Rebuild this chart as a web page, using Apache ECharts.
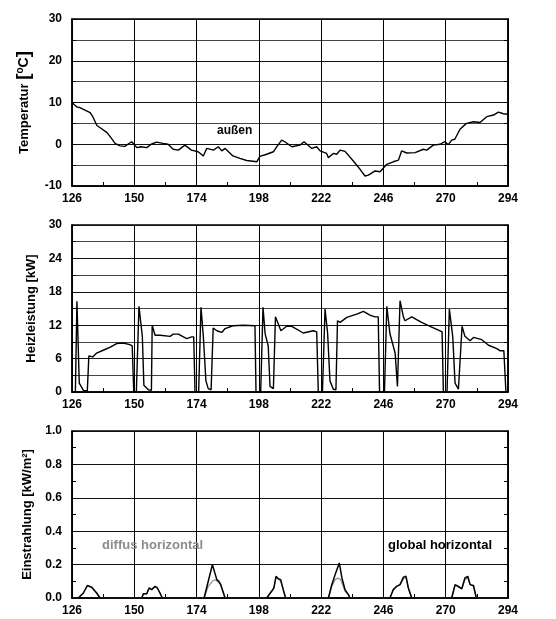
<!DOCTYPE html>
<html>
<head>
<meta charset="utf-8">
<script src="https://cdn.jsdelivr.net/npm/echarts@6/dist/echarts.min.js"></script>
<style>
html,body{margin:0;padding:0;background:#fff;}
#main{width:556px;height:619px;}
</style>
</head>
<body>
<div id="main"></div>
<script>
// x-axis (hours)
const xTicks = [126, 150, 174, 198, 222, 246, 270, 294];
const tempTicks = [-10, 0, 10, 20, 30];
const heatTicks = [0, 6, 12, 18, 24, 30];
const radTicks = [0.0, 0.2, 0.4, 0.6, 0.8, 1.0];

// Temperatur außen [°C]: [hour, value]
const tempAussen = [[126,10.0],[127,9.4],[128,8.9],[129,8.8],[130,8.5],[131,8.2],[133,7.6],[134,6.6],[135.6,4.5],[137,3.9],[139.5,2.8],[141,1.6],[142.6,0.2],[144.5,-0.4],[146.4,-0.5],[147.5,0],[149,0.6],[151,-0.8],[152.5,-0.6],[154.8,-0.8],[156.5,0],[158.6,0.5],[161,0.2],[163,0],[165,-1.2],[167,-1.4],[169.5,-0.2],[172,-1.4],[174.6,-1.8],[176.6,-2.8],[177.9,-1.0],[180.5,-1.4],[182.4,-0.6],[183.7,-1.6],[185,-1.0],[188,-2.8],[190.7,-3.4],[193.3,-3.9],[195,-4.0],[197.2,-4.2],[198.4,-2.9],[201,-2.4],[203.6,-1.8],[205,-0.5],[206.8,1.0],[208,0.6],[210.7,-0.6],[213.9,-0.2],[215.4,0.6],[218.4,-1.0],[220.3,-0.6],[221.6,-1.6],[224.1,-2.2],[224.8,-3.2],[226.7,-2.2],[228,-2.4],[229.3,-1.4],[231.2,-1.7],[234.4,-4.0],[237,-6.0],[238.9,-7.6],[240.2,-7.4],[242.8,-6.4],[244.7,-6.6],[247.3,-4.8],[249.8,-4.2],[251.8,-3.8],[253,-1.6],[255,-2.1],[258.2,-2.0],[261.4,-1.2],[262.7,-1.4],[265.2,-0.2],[267.8,0],[269.7,0.6],[271,-0.1],[272.3,1.0],[273.5,1.2],[275.5,3.6],[278,5.0],[280.7,5.4],[283.2,5.2],[285.8,6.6],[288.4,7.0],[290.3,7.7],[292.2,7.3],[294,7.2]];

// Heizleistung [kW]: [hour, value]
const heizleistung = [[126,0],[127.3,0],[127.9,16.3],[128.8,1.6],[130.4,0.3],[131.9,0.2],[132.5,6.5],[134,6.3],[135.5,7.0],[138,7.5],[140.6,8.0],[143.2,8.7],[145.7,8.8],[148.3,8.5],[149.2,8.3],[149.8,0],[150.8,0],[151.8,15.4],[153.1,10],[153.7,1.2],[155.4,0.4],[156.6,0.3],[156.9,12.0],[158,10.2],[160,10.2],[163.8,10.0],[165,10.4],[167,10.4],[170.2,9.6],[172.1,9.9],[172.9,9.9],[173.4,0],[174.8,0],[175.7,15.2],[176.6,10],[177.6,2],[178.5,0.6],[179.6,0.4],[180.4,11.5],[181.8,11.0],[182.4,11.2],[183.7,10.7],[185,11.4],[188,11.9],[192,12.0],[196.5,11.9],[196.9,0],[198.7,0],[199.6,15.2],[200.4,10.5],[201.6,8.3],[202.3,1.0],[203.6,0.6],[204.4,13.5],[206.5,11.0],[208.7,11.8],[210.7,11.8],[215.1,10.6],[219,11.0],[220.3,10.8],[220.9,0],[222.5,0],[223.5,14.9],[224.5,10.5],[225.4,2.0],[226.7,0.5],[227.7,0.4],[228.3,12.8],[229.3,12.5],[231.9,13.4],[235.7,14.0],[238.3,14.5],[240.8,13.8],[242.8,13.5],[244,13.5],[244.5,0],[246.4,0],[247.3,15.4],[248.5,10.5],[250.5,7.0],[251.4,1.0],[252.4,16.4],[253.7,13.5],[254.3,12.8],[256.9,13.5],[260.7,12.5],[264,11.8],[267.8,11.0],[268.6,10.8],[269.1,0],[270.5,0],[271.4,14.9],[272.7,10],[273.6,1.6],[274.9,0.5],[275.6,0.4],[276.3,11.8],[277.4,10],[279.4,9.2],[280.7,9.8],[283.9,9.4],[286.5,8.4],[289.7,7.8],[291,7.4],[292.4,7.4],[293.2,0],[294,0]];

// Einstrahlung global horizontal [kW/m²]
const globalHorizontal = [[126,0],[128.4,0],[130.4,0.03],[131.9,0.075],[133.6,0.065],[135.5,0.03],[136.8,0],[152.9,0],[153.5,0.025],[154.8,0.025],[155.7,0.06],[156.7,0.05],[158,0.07],[158.9,0.06],[159.9,0.03],[160.8,0],[176.9,0],[178.5,0.1],[180.1,0.2],[180.7,0.19],[181.8,0.11],[182.6,0.1],[183.3,0.08],[183.7,0.09],[185,0],[201,0],[202.9,0.04],[203.8,0.06],[204.6,0.13],[205.5,0.115],[206.4,0.11],[207.4,0.05],[208.3,0],[224.8,0],[226.1,0.08],[227.4,0.14],[229,0.21],[230,0.12],[231.2,0.05],[232.5,0.02],[233.1,0],[248.5,0],[249.8,0.05],[251.1,0.07],[252.4,0.08],[253.7,0.125],[254.7,0.13],[255.6,0.06],[256.9,0],[272.3,0],[273.6,0.08],[274.9,0.07],[276.2,0.055],[277.4,0.12],[278.5,0.13],[279.4,0.08],[280.7,0.075],[281.8,0],[294,0]];

// Einstrahlung diffus horizontal [kW/m²]
const diffusHorizontal = [[126,0],[128.4,0],[130.4,0.03],[131.9,0.072],[133.6,0.062],[135.5,0.03],[136.8,0],[152.9,0],[153.5,0.025],[154.8,0.025],[155.7,0.058],[156.7,0.05],[158,0.068],[158.9,0.058],[159.9,0.03],[160.8,0],[176.9,0],[178.5,0.07],[180.1,0.1],[181,0.11],[182,0.1],[183.3,0.08],[183.7,0.07],[185,0],[201,0],[202.9,0.04],[203.8,0.06],[204.6,0.12],[205.5,0.115],[206.4,0.1],[207.4,0.05],[208.3,0],[224.8,0],[226.1,0.07],[227.4,0.11],[228.5,0.12],[229.5,0.11],[230.5,0.07],[231.2,0.04],[232.5,0.02],[233.1,0],[248.5,0],[249.8,0.05],[251.1,0.07],[252.4,0.08],[253.7,0.115],[254.7,0.12],[255.6,0.06],[256.9,0],[272.3,0],[273.6,0.075],[274.9,0.065],[276.2,0.055],[277.4,0.11],[278.5,0.12],[279.4,0.08],[280.7,0.07],[281.8,0],[294,0]];

const FONT = 'Liberation Sans, Arial, sans-serif';
const chart = echarts.init(document.getElementById('main'));

const grids = [
  {left: 72, right: 48, top: 19, height: 167},
  {left: 72, right: 48, top: 225, height: 167},
  {left: 72, right: 48, top: 431, height: 167}
].map(g => Object.assign(g, {show: true, borderColor: '#000', borderWidth: 1.5, backgroundColor: 'transparent'}));

function xAxis(i) {
  return {
    type: 'value', gridIndex: i, min: xTicks[0], max: xTicks[xTicks.length - 1], interval: 24,
    axisLine: {show: true, onZero: false, lineStyle: {color: '#000', width: 1.5}},
    axisTick: {show: true, inside: true, length: 4, lineStyle: {color: '#000'}},
    minorTick: {show: true, splitNumber: 2, length: 4, lineStyle: {color: '#000'}},
    splitLine: {show: true, lineStyle: {color: '#000', width: 1}},
    axisLabel: {color: '#000', fontFamily: FONT, fontWeight: 'bold', fontSize: 12, margin: 7}
  };
}

function yAxis(i, ticks, interval, minorSplit, name, fmt, gap, rich) {
  return {
    type: 'value', gridIndex: i, min: ticks[0], max: ticks[ticks.length - 1], interval: interval,
    name: name, nameLocation: 'middle', nameGap: gap, nameRotate: 90,
    nameTextStyle: {color: '#000', fontFamily: FONT, fontWeight: 'bold', fontSize: 13, rich: rich},
    axisLine: {show: true, lineStyle: {color: '#000', width: 1.5}},
    axisTick: {show: true, inside: true, length: 4, lineStyle: {color: '#000'}},
    minorTick: {show: true, splitNumber: 2, length: 4, lineStyle: {color: '#000'}},
    splitLine: {show: true, lineStyle: {color: '#111', width: 1}},
    minorSplitLine: {show: minorSplit, lineStyle: {color: '#444', width: 1}},
    axisLabel: {color: '#000', fontFamily: FONT, fontWeight: 'bold', fontSize: 12, margin: 10, formatter: fmt}
  };
}

function yRight(i, ticks, interval) {
  return {
    type: 'value', gridIndex: i, position: 'right', min: ticks[0], max: ticks[ticks.length - 1], interval: interval,
    axisLine: {show: true, lineStyle: {color: '#000', width: 1.5}},
    axisTick: {show: true, inside: true, length: 4, lineStyle: {color: '#000'}},
    minorTick: {show: true, splitNumber: 2, length: 4, lineStyle: {color: '#000'}},
    splitLine: {show: false}, axisLabel: {show: false}
  };
}

const richTemp = {
  t: {fontFamily: FONT, fontWeight: 'bold', fontSize: 13, color: '#000'},
  b: {fontFamily: FONT, fontWeight: 'bold', fontSize: 19, color: '#000'},
  o: {fontFamily: FONT, fontWeight: 'bold', fontSize: 10, color: '#000', verticalAlign: 'top', padding: [0, 0, 8, 0]},
  c: {fontFamily: FONT, fontWeight: 'bold', fontSize: 14, color: '#000'}
};

const option = {
  animation: false,
  backgroundColor: '#fff',
  grid: grids,
  xAxis: [xAxis(0), xAxis(1), xAxis(2)],
  yAxis: [
    yAxis(0, tempTicks, 10, true, '{t|Temperatur }{b|[}{o|o}{c|C}{b|]}', v => v, 34, richTemp),
    yAxis(1, heatTicks, 6, true, 'Heizleistung [kW]', v => v, 33),
    yAxis(2, radTicks, 0.2, false, 'Einstrahlung [kW/m²]', v => v.toFixed(1), 33),
    yRight(0, tempTicks, 10),
    yRight(1, heatTicks, 6),
    yRight(2, radTicks, 0.2)
  ],
  series: [
    {type: 'line', name: 'außen', xAxisIndex: 0, yAxisIndex: 0, data: tempAussen, showSymbol: false,
     lineStyle: {color: '#000', width: 1.4}, z: 5},
    {type: 'line', name: 'Heizleistung', xAxisIndex: 1, yAxisIndex: 1, data: heizleistung, showSymbol: false,
     lineStyle: {color: '#000', width: 1.4}, z: 5},
    {type: 'line', name: 'diffus horizontal', xAxisIndex: 2, yAxisIndex: 2, data: diffusHorizontal, showSymbol: false,
     lineStyle: {color: '#8c8c8c', width: 1.2}, z: 4},
    {type: 'line', name: 'global horizontal', xAxisIndex: 2, yAxisIndex: 2, data: globalHorizontal, showSymbol: false,
     lineStyle: {color: '#000', width: 1.5}, z: 5}
  ],
  graphic: [
    {type: 'text', left: 217, top: 125, z: 10,
     style: {text: 'außen', fill: '#000', font: 'bold 12px ' + FONT}},
    {type: 'text', left: 102, top: 539, z: 10,
     style: {text: 'diffus horizontal', fill: '#8c8c8c', font: 'bold 13px ' + FONT}},
    {type: 'text', left: 388, top: 539, z: 10,
     style: {text: 'global horizontal', fill: '#000', font: 'bold 13px ' + FONT}}
  ]
};
chart.setOption(option);
</script>
</body>
</html>
